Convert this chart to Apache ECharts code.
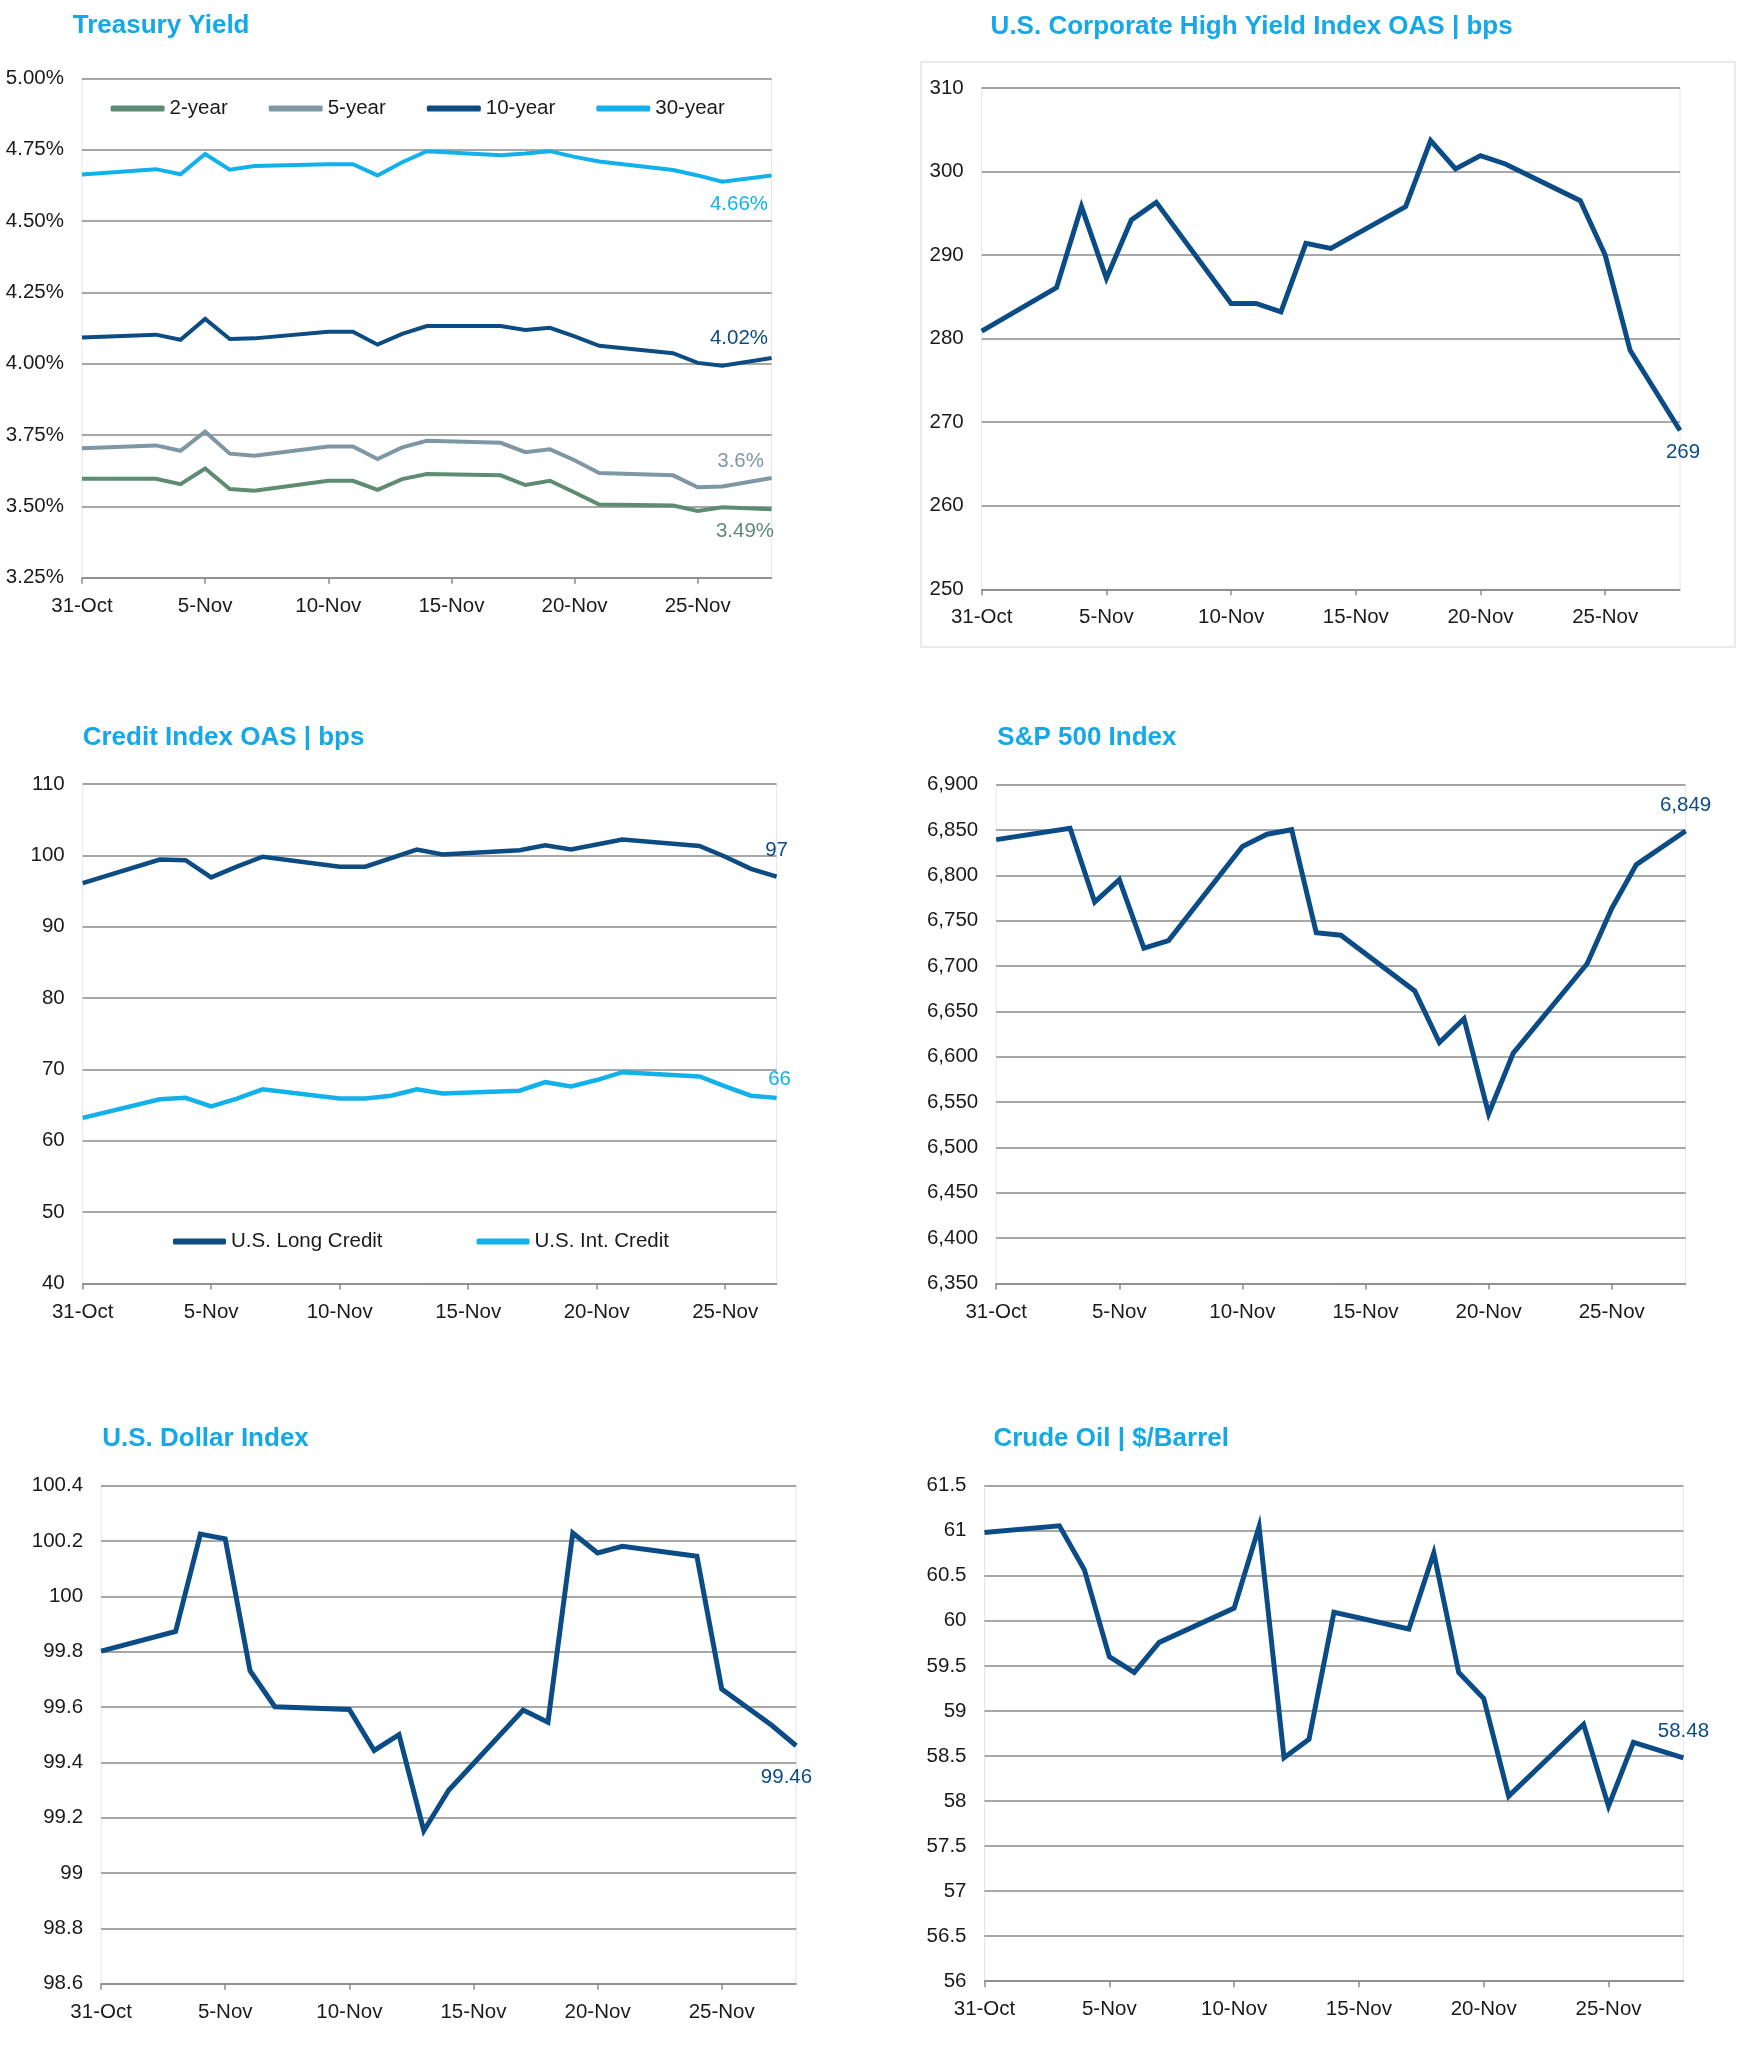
<!DOCTYPE html>
<html>
<head>
<meta charset="utf-8">
<script src="https://cdn.jsdelivr.net/npm/echarts@6/dist/echarts.min.js"></script>
<style>
html,body{margin:0;padding:0;background:#fff;}
#c{width:1760px;height:2048px;}
</style>
</head>
<body>
<div id="c"></div>
<script>
// ---------- DATA ----------
const treasuryDates = ['2025-10-31','2025-11-03','2025-11-04','2025-11-05','2025-11-06','2025-11-07','2025-11-10','2025-11-11','2025-11-12','2025-11-13','2025-11-14','2025-11-17','2025-11-18','2025-11-19','2025-11-20','2025-11-21','2025-11-24','2025-11-25','2025-11-26','2025-11-28'];
const y2  = [3.597,3.597,3.578,3.633,3.561,3.555,3.590,3.590,3.558,3.596,3.614,3.609,3.575,3.590,3.549,3.507,3.503,3.484,3.497,3.49];
const y5  = [3.704,3.714,3.695,3.762,3.685,3.678,3.710,3.710,3.666,3.707,3.730,3.723,3.690,3.700,3.662,3.617,3.609,3.567,3.570,3.60];
const y10 = [4.092,4.102,4.084,4.157,4.087,4.089,4.112,4.112,4.067,4.105,4.132,4.132,4.118,4.126,4.096,4.063,4.037,4.003,3.993,4.02];
const y30 = [4.663,4.682,4.664,4.735,4.680,4.693,4.699,4.699,4.660,4.706,4.745,4.731,4.737,4.745,4.725,4.709,4.679,4.660,4.638,4.66];
const treasuryNames = ['2-year','5-year','10-year','30-year'];

const hyDates = treasuryDates;
const hyOAS = [280.9,286.1,295.8,287.2,294.2,296.3,284.2,284.2,283.2,291.4,290.8,295.8,303.7,300.3,301.9,300.9,296.5,290.0,278.6,269];

const creditDates = ['2025-10-31','2025-11-03','2025-11-04','2025-11-05','2025-11-06','2025-11-07','2025-11-10','2025-11-11','2025-11-12','2025-11-13','2025-11-14','2025-11-17','2025-11-18','2025-11-19','2025-11-20','2025-11-21','2025-11-24','2025-11-25','2025-11-26','2025-11-27'];
const longCredit = [96.1,99.4,99.3,96.9,98.4,99.8,98.4,98.4,99.6,100.8,100.1,100.7,101.4,100.8,101.5,102.2,101.3,99.8,98.1,97];
const intCredit  = [63.2,65.8,66.0,64.8,65.9,67.2,65.9,65.9,66.3,67.2,66.6,67.0,68.2,67.6,68.5,69.6,69.0,67.6,66.3,66];
const creditNames = ['U.S. Long Credit','U.S. Int. Credit'];

const spxDates = treasuryDates;
const spx = [6839.5,6852,6770.6,6795.5,6719.7,6728.1,6832,6845.5,6850.5,6736.8,6734,6672.6,6615.7,6642,6537.2,6604,6702.6,6763.6,6812,6849];

const dxyDates = ['2025-10-31','2025-11-03','2025-11-04','2025-11-05','2025-11-06','2025-11-07','2025-11-10','2025-11-11','2025-11-12','2025-11-13','2025-11-14','2025-11-17','2025-11-18','2025-11-19','2025-11-20','2025-11-21','2025-11-24','2025-11-25','2025-11-26','2025-11-27','2025-11-28'];
const dxy = [99.802,99.873,100.225,100.208,99.731,99.601,99.591,99.443,99.50,99.153,99.299,99.589,99.545,100.229,100.157,100.181,100.145,99.665,99.60,99.535,99.46];

const oilDates = treasuryDates;
const oil = [60.98,61.055,60.568,59.603,59.427,59.761,60.141,61.045,58.481,58.685,60.095,59.909,60.753,59.427,59.139,58.054,58.852,57.942,58.652,58.48];

const xTickDates = ['2025-10-31','2025-11-05','2025-11-10','2025-11-15','2025-11-20','2025-11-25'];
const titles = ['Treasury Yield','U.S. Corporate High Yield Index OAS | bps','Credit Index OAS | bps','S&P 500 Index','U.S. Dollar Index','Crude Oil | $/Barrel'];

// ---------- HELPERS ----------
const MONTHS = ['Jan','Feb','Mar','Apr','May','Jun','Jul','Aug','Sep','Oct','Nov','Dec'];
const BASE = Date.UTC(2025,9,31);
function dayOf(s){const p=s.split('-').map(Number);return Math.round((Date.UTC(p[0],p[1]-1,p[2])-BASE)/86400000);}
function dayLabel(d){const t=new Date(BASE+d*86400000);return t.getUTCDate()+'-'+MONTHS[t.getUTCMonth()];}
function pairs(dates,vals){return vals.map((v,i)=>[dayOf(dates[i]),v]);}
const xTicks = xTickDates.map(dayOf);

const FONT = "'Liberation Sans', Arial, Helvetica, sans-serif";
const GRIDC = '#8a8a8a';
const TXT = '#1a1a1a';
const TITLEC = '#14A9E6';
const NAVY = '#0B4C86';
const C2='#5E8C73', C5='#7F97A5', C10='#0D4C82', C30='#12B1EC';
const FS = 20.5;

const grids = [
  {left:82,    top:78.4,   width:689.6, height:499.4},
  {left:981.7, top:87.9,   width:698.3, height:501.4},
  {left:82.7,  top:783.9,  width:693.9, height:499.5},
  {left:996.2, top:784.8,  width:689.4, height:498.6},
  {left:101.1, top:1485.7, width:695.1, height:498},
  {left:984.5, top:1485.7, width:698.9, height:495.5}
];
const xMax = [28,28,27,28,28,28];
const yCfg = [
  {min:3.25,max:5,interval:0.25,fmt:v=>v.toFixed(2)+'%'},
  {min:250,max:310,interval:10,fmt:v=>String(Math.round(v))},
  {min:40,max:110,interval:10,fmt:v=>String(Math.round(v))},
  {min:6350,max:6900,interval:50,fmt:v=>Math.round(v).toLocaleString('en-US')},
  {min:98.6,max:100.4,interval:0.2,fmt:v=>String(parseFloat(v.toFixed(1)))},
  {min:56,max:61.5,interval:0.5,fmt:v=>String(parseFloat(v.toFixed(1)))}
];
const titlePos = [[72.7,13],[990.6,13.5],[82.7,724.5],[997.3,724.5],[102.2,1426],[993.4,1426]];

function endMark(dates,vals,text,color,offset){
  const i=vals.length-1;
  return {symbol:'circle',symbolSize:1,silent:true,animation:false,
    itemStyle:{color:'rgba(0,0,0,0)'},
    label:{show:true,position:'inside',offset:offset,color:color,fontSize:FS,fontFamily:FONT,formatter:text},
    data:[{coord:[dayOf(dates[i]),vals[i]]}]};
}
function lineSeries(name,idx,dates,vals,color,width,mark){
  return {name:name,type:'line',xAxisIndex:idx,yAxisIndex:idx,data:pairs(dates,vals),
    showSymbol:false,symbol:'none',lineStyle:{color:color,width:width,join:'miter'},itemStyle:{color:color},
    animation:false,markPoint:mark,z:3};
}
const lastFmt2 = v=>parseFloat(v.toFixed(2))+'%';

const option = {
  backgroundColor:'#fff',
  animation:false,
  textStyle:{fontFamily:FONT},
  title: titles.map((t,i)=>({text:t,left:titlePos[i][0],top:titlePos[i][1],padding:0,
    textStyle:{color:TITLEC,fontSize:26,fontWeight:'bold',fontFamily:FONT,lineHeight:26}})),
  legend:[
    {data:treasuryNames,left:110.6,top:98,padding:0,itemWidth:54,itemHeight:6,itemGap:41,icon:'roundRect',
      textStyle:{color:TXT,fontSize:FS,fontFamily:FONT},selectedMode:false},
    {data:creditNames,left:173,top:1231,padding:0,itemWidth:53,itemHeight:6,itemGap:94,icon:'roundRect',
      textStyle:{color:TXT,fontSize:FS,fontFamily:FONT},selectedMode:false}
  ],
  grid: grids.map(g=>Object.assign({show:true,borderColor:'#e6e6e6',borderWidth:1,backgroundColor:'transparent',containLabel:false},g)),
  xAxis: grids.map((g,i)=>({type:'value',gridIndex:i,min:0,max:xMax[i],interval:5,
    splitLine:{show:false},
    axisLine:{show:true,onZero:false,lineStyle:{color:GRIDC,width:1.5}},
    axisTick:{show:true,length:6,lineStyle:{color:GRIDC,width:1.5},customValues:xTicks},
    axisLabel:{show:true,margin:18,color:TXT,fontSize:FS,fontFamily:FONT,customValues:xTicks,formatter:v=>dayLabel(v)}
  })),
  yAxis: yCfg.map((c,i)=>({type:'value',gridIndex:i,min:c.min,max:c.max,interval:c.interval,
    axisLine:{show:false},axisTick:{show:false},
    splitLine:{show:true,lineStyle:{color:GRIDC,width:1.5}},
    axisLabel:{margin:18,color:TXT,fontSize:FS,fontFamily:FONT,formatter:c.fmt}
  })),
  graphic:[
    {type:'rect',shape:{x:921,y:62,width:814,height:585},style:{fill:'none',stroke:'#e3e3e3',lineWidth:1.5},silent:true,z:-1}
  ],
  series:[
    lineSeries('2-year',0,treasuryDates,y2,C2,4,endMark(treasuryDates,y2,lastFmt2(y2[y2.length-1]),C2,[-26.6,22])),
    lineSeries('5-year',0,treasuryDates,y5,C5,4,endMark(treasuryDates,y5,lastFmt2(y5[y5.length-1]),C5,[-31,-16.5])),
    lineSeries('10-year',0,treasuryDates,y10,C10,4,endMark(treasuryDates,y10,lastFmt2(y10[y10.length-1]),C10,[-32.6,-20])),
    lineSeries('30-year',0,treasuryDates,y30,C30,4,endMark(treasuryDates,y30,lastFmt2(y30[y30.length-1]),C30,[-32.6,29])),
    lineSeries('HY OAS',1,hyDates,hyOAS,NAVY,5,endMark(hyDates,hyOAS,String(Math.round(hyOAS[hyOAS.length-1])),NAVY,[3,22])),
    lineSeries('U.S. Long Credit',2,creditDates,longCredit,C10,4.5,endMark(creditDates,longCredit,String(Math.round(longCredit[longCredit.length-1])),C10,[0,-26])),
    lineSeries('U.S. Int. Credit',2,creditDates,intCredit,C30,4.5,endMark(creditDates,intCredit,String(Math.round(intCredit[intCredit.length-1])),C30,[3,-19])),
    lineSeries('S&P 500',3,spxDates,spx,NAVY,5,endMark(spxDates,spx,Math.round(spx[spx.length-1]).toLocaleString('en-US'),NAVY,[0,-26])),
    lineSeries('DXY',4,dxyDates,dxy,NAVY,5,endMark(dxyDates,dxy,dxy[dxy.length-1].toFixed(2),NAVY,[-9.7,32])),
    lineSeries('Oil',5,oilDates,oil,NAVY,5,endMark(oilDates,oil,oil[oil.length-1].toFixed(2),NAVY,[0,-26]))
  ]
};
const chart = echarts.init(document.getElementById('c'),null,{renderer:'canvas'});
chart.setOption(option);
</script>
</body>
</html>
